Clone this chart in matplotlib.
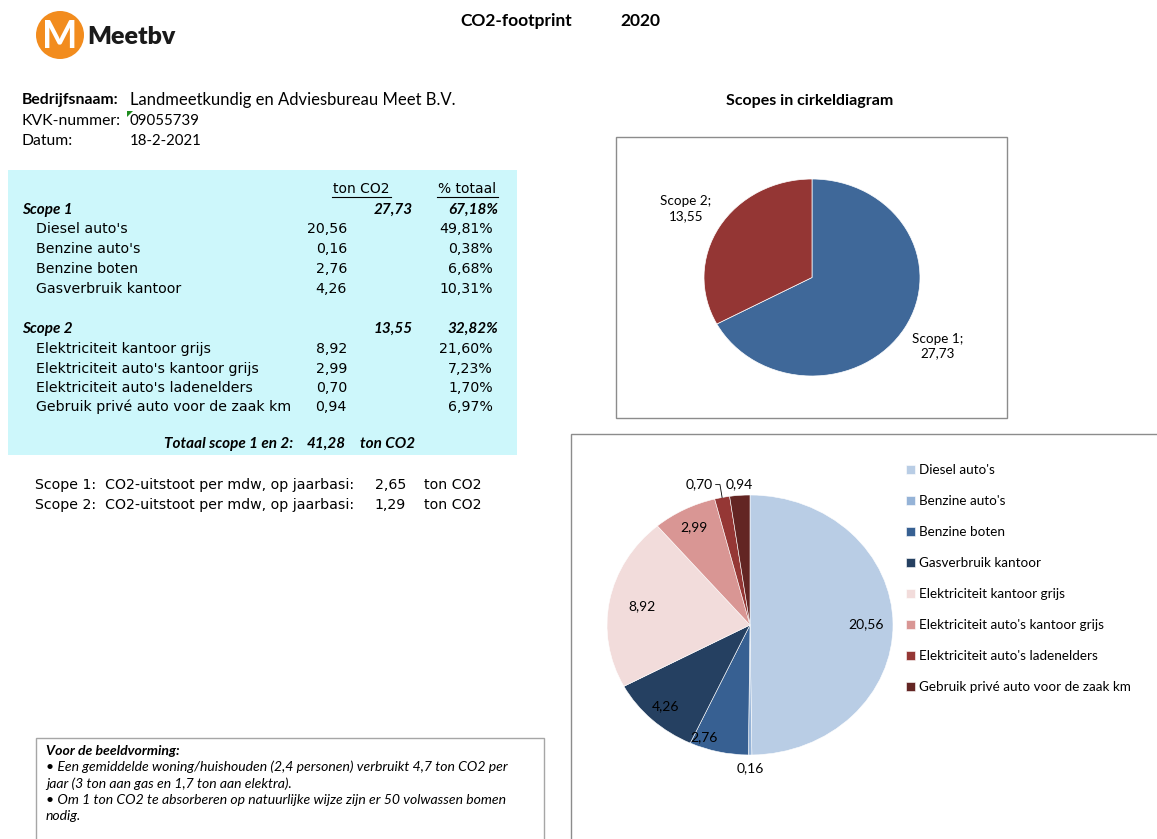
import matplotlib.pyplot as plt
from matplotlib.patches import Rectangle, Ellipse, Polygon
from matplotlib.lines import Line2D
import numpy as np

W, H = 1157, 839

# --- data ---
company = "Landmeetkundig en Adviesbureau Meet B.V."
kvk = "09055739"
datum = "18-2-2021"
year = "2020"

scope_names = ["Scope 1", "Scope 2"]
scope_totals = [27.73, 13.55]
scope_shares = [67.18, 32.82]

scope1_items = ["Diesel auto's", "Benzine auto's", "Benzine boten", "Gasverbruik kantoor"]
scope1_values = [20.56, 0.16, 2.76, 4.26]
scope1_shares = [49.81, 0.38, 6.68, 10.31]

scope2_items = ["Elektriciteit kantoor grijs", "Elektriciteit auto's kantoor grijs",
                "Elektriciteit auto's ladenelders", "Gebruik privé auto voor de zaak km"]
scope2_values = [8.92, 2.99, 0.70, 0.94]
scope2_shares = [21.60, 7.23, 1.70, 6.97]

total_co2 = 41.28
per_mdw = [2.65, 1.29]

note_lines = ["• Een gemiddelde woning/huishouden (2,4 personen) verbruikt 4,7 ton CO2 per",
              "jaar (3 ton aan gas en 1,7 ton aan elektra).",
              "• Om 1 ton CO2 te absorberen op natuurlijke wijze zijn er 50 volwassen bomen",
              "nodig."]

# --- style ---
scope_colors = ["#3F6899", "#943634"]
item_colors = ["#B9CDE5", "#95B3D7", "#376092", "#254061",
               "#F2DCDB", "#D99694", "#953735", "#632523"]
CAL = ["Lato", "DejaVu Sans"]
VER = ["DejaVu Sans"]


def fx(x):
    return x / W


def fy(y):
    return 1 - y / H


def nl(v, d=2):
    return f"{v:.{d}f}".replace(".", ",")


fig = plt.figure(figsize=(W / 100, H / 100), dpi=100)


def txt(x, y, s, size=10, fam=CAL, **kw):
    fig.text(fx(x), fy(y), s, fontsize=size, family=fam, va="center", **kw)


def box(x0, y0, x1, y1, **kw):
    fig.add_artist(Rectangle((fx(x0), fy(y1)), fx(x1) - fx(x0), fy(y0) - fy(y1),
                             transform=fig.transFigure, **kw))


# logo
fig.add_artist(Ellipse((fx(60), fy(35)), 48 / W, 48 / H, transform=fig.transFigure,
                       facecolor="#F28C1E", edgecolor="none"))
txt(60, 37, "M", size=27, fam=CAL, weight="bold", color="white", ha="center")
txt(87, 37, "Meetbv", size=18, weight="heavy", color="#1a1a1a")

# header
txt(460, 21, "CO2-footprint", size=12.5, weight="bold")
txt(620, 21, year, size=12.5, weight="bold")

txt(22, 100, "Bedrijfsnaam:", size=11.3, weight="bold")
txt(130, 100, company, size=12)
txt(22, 121, "KVK-nummer:", size=11.3)
txt(130, 121, kvk, size=10.8)
txt(22, 141, "Datum:", size=11.3)
txt(130, 141, datum, size=10.8)
fig.add_artist(Polygon([(fx(127), fy(111)), (fx(133), fy(111)), (fx(127), fy(117))],
                       transform=fig.transFigure, facecolor="#1E8C1E", edgecolor="none"))

# table
box(8, 170, 517, 455, facecolor="#CDF7FB", edgecolor="none")
txt(361, 189, "ton CO2", size=10, fam=VER, ha="center")
txt(467, 189, "% totaal", size=10, fam=VER, ha="center")
for x0, x1 in [(332, 391), (437, 498)]:
    fig.add_artist(Line2D([fx(x0), fx(x1)], [fy(197), fy(197)], transform=fig.transFigure,
                          color="black", lw=0.8))

rows_y = [[229, 249, 269, 289], [349, 369, 388, 407]]
head_y = [210, 329]
groups = [(scope1_items, scope1_values, scope1_shares), (scope2_items, scope2_values, scope2_shares)]
for k, (items, vals, shares) in enumerate(groups):
    txt(22, head_y[k], scope_names[k], size=11, weight="bold", style="italic")
    txt(413, head_y[k], nl(scope_totals[k]), size=11, weight="bold", style="italic", ha="right")
    txt(498, head_y[k], nl(scope_shares[k]) + "%", size=11, weight="bold", style="italic", ha="right")
    for i, name in enumerate(items):
        y = rows_y[k][i]
        txt(36, y, name, size=10.2, fam=VER)
        txt(347, y, nl(vals[i]), size=10.2, fam=VER, ha="right")
        txt(493, y, nl(shares[i]) + "%", size=10.2, fam=VER, ha="right")

txt(293, 444, "Totaal scope 1 en 2:", size=11, weight="bold", style="italic", ha="right")
txt(346, 444, nl(total_co2), size=11, weight="bold", style="italic", ha="right")
txt(360, 444, "ton CO2", size=11, weight="bold", style="italic")

for k, v in enumerate(per_mdw):
    y = 485 + 20 * k
    txt(35, y, f"Scope {k + 1}:  CO2-uitstoot per mdw, op jaarbasi:", size=10.2, fam=VER)
    txt(406, y, nl(v), size=10.2, fam=VER, ha="right")
    txt(424, y, "ton CO2", size=10.2, fam=VER)

# note box
box(36, 738, 544, 860, facecolor="white", edgecolor="#A6A6A6", lw=1)
txt(46, 751, "Voor de beeldvorming:", size=10.1, weight="bold", style="italic")
for i, line in enumerate(note_lines):
    txt(46, 767 + 16.5 * i, line, size=10.1, style="italic")

# --- pie 1 ---
txt(810, 101, "Scopes in cirkeldiagram", size=11.5, weight="bold", ha="center")
box(616, 137, 1007, 418, facecolor="none", edgecolor="#8C8C8C", lw=1)
ax1 = fig.add_axes([fx(704), fy(376), (920 - 704) / W, (376 - 179) / H])
w1, _ = ax1.pie(scope_totals, colors=scope_colors, startangle=90, counterclock=False,
                wedgeprops=dict(edgecolor="white", linewidth=0.5))
ax1.set_aspect("auto")
ax1.set_xlim(-1, 1)
ax1.set_ylim(-1, 1)
ax1.axis("off")
for w, name, v in zip(w1, scope_names, scope_totals):
    t = np.deg2rad((w.theta1 + w.theta2) / 2)
    ax1.text(1.36 * np.cos(t), 1.36 * np.sin(t), f"{name};\n{nl(v)}", ha="center", va="center",
             fontsize=9.7, family=CAL, linespacing=1.25)

# --- pie 2 ---
box(571, 434, 1200, 900, facecolor="none", edgecolor="#8C8C8C", lw=1)
ax2 = fig.add_axes([fx(607), fy(755), (893 - 607) / W, (755 - 495) / H])
all_items = scope1_items + scope2_items
all_values = scope1_values + scope2_values
w2, _ = ax2.pie(all_values, colors=item_colors, startangle=90, counterclock=False,
                wedgeprops=dict(edgecolor="white", linewidth=0.4))
ax2.set_aspect("auto")
ax2.set_xlim(-1, 1)
ax2.set_ylim(-1, 1)
ax2.axis("off")
label_r = [0.81, 1.1, 0.92, 0.86, 0.77, 0.85, 1.14, 1.09]
label_dt = [0, 0, -8, 0, 0, 0, 7, 0]
for i, (w, v) in enumerate(zip(w2, all_values)):
    t = np.deg2rad((w.theta1 + w.theta2) / 2 + label_dt[i])
    ax2.text(label_r[i] * np.cos(t), label_r[i] * np.sin(t), nl(v), ha="center", va="center",
             fontsize=10, family=CAL)
# leader line for the small slice
w = w2[6]
tm = np.deg2rad((w.theta1 + w.theta2) / 2)
ax2.plot([-0.24, -0.21, np.cos(tm)], [1.08, 1.08, np.sin(tm)], color="black", lw=0.6,
         clip_on=False)

leg = ax2.legend(w2, all_items, loc="upper left", bbox_to_anchor=(fx(906), fy(464)),
                 bbox_transform=fig.transFigure, frameon=False,
                 handlelength=0.65, handleheight=0.65, handletextpad=0.35,
                 labelspacing=1.41, borderpad=0, borderaxespad=0, prop=dict(family=CAL, size=9.7))

fig.savefig("out.png", dpi=100)
